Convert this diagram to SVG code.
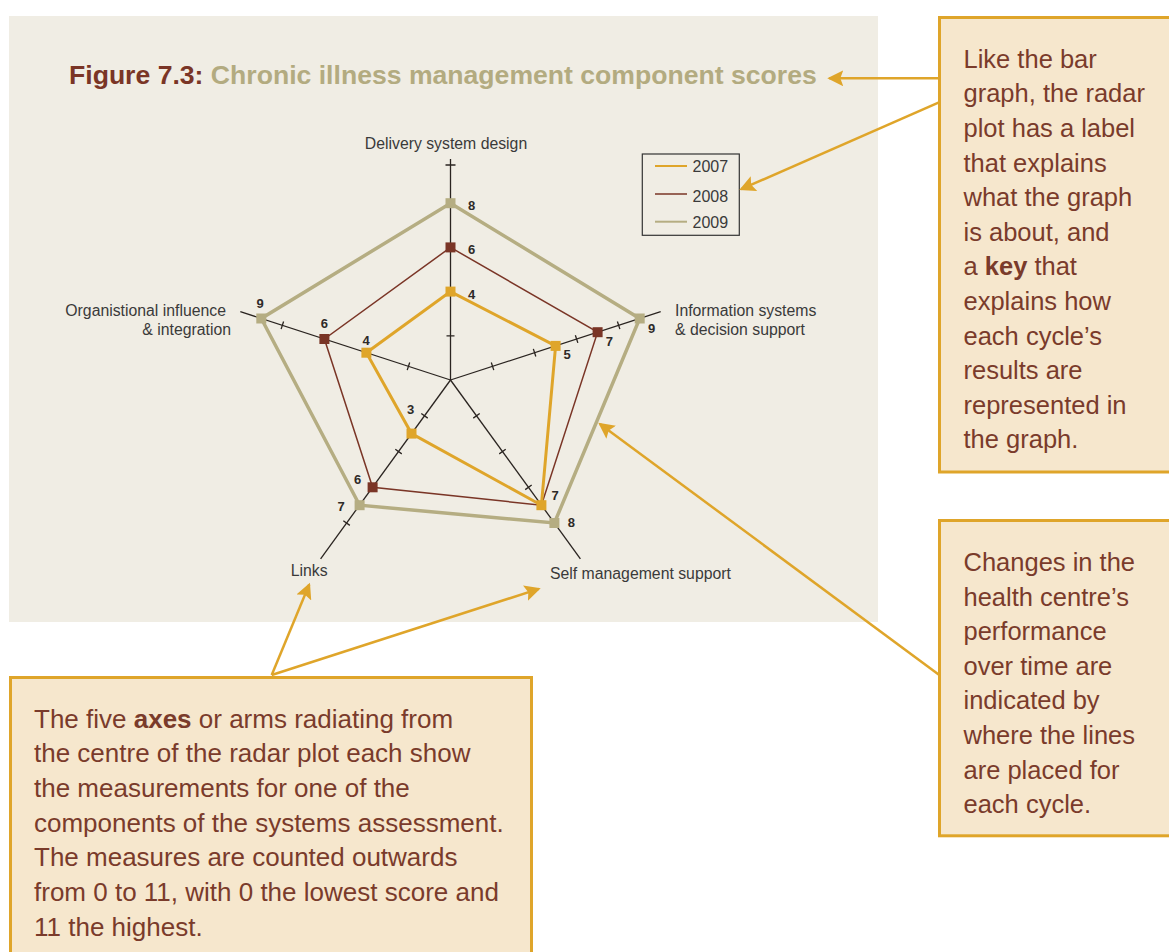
<svg xmlns="http://www.w3.org/2000/svg" width="1169" height="952" viewBox="0 0 1169 952">
<style>
.axl{font-family:"Liberation Sans",Arial,sans-serif;font-size:15.8px;fill:#3a3a3a}
.val{font-family:"Liberation Sans",Arial,sans-serif;font-size:13px;font-weight:bold;fill:#2e2a28;text-anchor:middle}
.leg{font-family:"Liberation Sans",Arial,sans-serif;font-size:16px;fill:#3a3a3a}
.call{font-family:"Liberation Sans",Arial,sans-serif;font-size:25.5px;fill:#7a3b2b}
.call3{font-family:"Liberation Sans",Arial,sans-serif;font-size:26px;fill:#7a3b2b}
.box{fill:#f6e7cd;stroke:#dfa52a;stroke-width:3}
.arr{stroke:#dfa52a;stroke-width:2.5;fill:none;marker-end:url(#ah)}
.p07{fill:none;stroke:#dfa52a;stroke-width:3}
.p08{fill:none;stroke:#7a3526;stroke-width:1.5}
.p09{fill:none;stroke:#b5ad82;stroke-width:3.5}
.m07{fill:#dfa52a}.m08{fill:#7a3526}.m09{fill:#b5ad82}
</style>
<defs>
<marker id="ah" viewBox="0 0 16 16" markerWidth="16" markerHeight="16" refX="14" refY="8" orient="auto" markerUnits="userSpaceOnUse">
<path d="M0,0 L16,8 L0,16 L3,8 z" fill="#dfa52a"/>
</marker>
</defs>
<rect x="0" y="0" width="1169" height="952" fill="#ffffff"/>
<rect id="panel" x="9" y="16" width="869" height="606" fill="#f0ede4"/>

<g id="title">
<text x="69" y="84.3" font-family="Liberation Sans,Arial,sans-serif" font-size="26.6" font-weight="bold"><tspan fill="#7a3526">Figure 7.3:</tspan><tspan fill="#b3ab80"> Chronic illness management component scores</tspan></text>
</g>

<g id="axes" transform="translate(450.5,380)" stroke="#2a2420" stroke-width="1.3" fill="none">
<g><line x1="0" y1="0" x2="0" y2="-221"/><path d="M-4,-44.2H4M-4,-88.4H4M-4,-132.6H4M-4,-176.8H4M-5,-215H5"/></g>
<g transform="rotate(72)"><line x1="0" y1="0" x2="0" y2="-221"/><path d="M-4,-44.2H4M-4,-88.4H4M-4,-132.6H4M-4,-176.8H4"/></g>
<g transform="rotate(144)"><line x1="0" y1="0" x2="0" y2="-221"/><path d="M-4,-44.2H4M-4,-88.4H4M-4,-132.6H4M-4,-176.8H4"/></g>
<g transform="rotate(216)"><line x1="0" y1="0" x2="0" y2="-221"/><path d="M-4,-44.2H4M-4,-88.4H4M-4,-132.6H4M-4,-176.8H4"/></g>
<g transform="rotate(288)"><line x1="0" y1="0" x2="0" y2="-221"/><path d="M-4,-44.2H4M-4,-88.4H4M-4,-132.6H4M-4,-176.8H4"/></g>
</g>

<g id="axis-labels">
<text class="axl" x="446" y="149" text-anchor="middle">Delivery system design</text>
<text class="axl" x="675" y="316">Information systems</text>
<text class="axl" x="675" y="335">&amp; decision support</text>
<text class="axl" x="226" y="316" text-anchor="end">Organistional influence</text>
<text class="axl" x="231" y="335" text-anchor="end">&amp; integration</text>
<text class="axl" x="290.7" y="576">Links</text>
<text class="axl" x="550" y="579">Self management support</text>
</g>

<g id="series-2009">
<polygon class="p09" points="450.5,203.2 639.7,318.5 554.4,523 359.6,505.2 261.3,318.5"/>
<g class="m09">
<rect x="445.5" y="198.2" width="10" height="10"/>
<rect x="634.7" y="313.5" width="10" height="10"/>
<rect x="549.4" y="518" width="10" height="10"/>
<rect x="354.6" y="500.2" width="10" height="10"/>
<rect x="256.3" y="313.5" width="10" height="10"/>
</g>
</g>
<g id="series-2008">
<polygon class="p08" points="450.5,247.4 597.6,332.2 541.4,505.2 372.6,487.3 324.4,339"/>
<g class="m08">
<rect x="445.5" y="242.4" width="10" height="10"/>
<rect x="592.6" y="327.2" width="10" height="10"/>
<rect x="367.6" y="482.3" width="10" height="10"/>
<rect x="319.4" y="334" width="10" height="10"/>
</g>
</g>
<g id="series-2007">
<polygon class="p07" points="450.5,291.6 555.6,345.9 541.4,505.2 411.5,433.6 366.4,352.7"/>
<g class="m07">
<rect x="445.5" y="286.6" width="10" height="10"/>
<rect x="550.6" y="340.9" width="10" height="10"/>
<rect x="536.4" y="500.2" width="10" height="10"/>
<rect x="406.5" y="428.6" width="10" height="10"/>
<rect x="361.4" y="347.7" width="10" height="10"/>
</g>
</g>

<g id="value-labels">
<text class="val" x="471.5" y="210.2">8</text>
<text class="val" x="471.5" y="253.5">6</text>
<text class="val" x="471.5" y="298.5">4</text>
<text class="val" x="651.7" y="333">9</text>
<text class="val" x="609.3" y="346.4">7</text>
<text class="val" x="567" y="359">5</text>
<text class="val" x="555" y="500.2">7</text>
<text class="val" x="571.3" y="527">8</text>
<text class="val" x="410.7" y="413.9">3</text>
<text class="val" x="357.7" y="484.2">6</text>
<text class="val" x="341" y="511.4">7</text>
<text class="val" x="260" y="307.5">9</text>
<text class="val" x="324.3" y="328.2">6</text>
<text class="val" x="366" y="344.7">4</text>
</g>

<g id="legend">
<rect x="642.3" y="154" width="97" height="81.3" fill="none" stroke="#333" stroke-width="1.2"/>
<line x1="655" y1="166" x2="687" y2="166" stroke="#dfa52a" stroke-width="2"/>
<line x1="655" y1="194" x2="687" y2="194" stroke="#7a3526" stroke-width="1.5"/>
<line x1="655" y1="221.7" x2="687" y2="221.7" stroke="#b5ad82" stroke-width="2"/>
<text class="leg" x="692.5" y="172.3">2007</text>
<text class="leg" x="692.5" y="202.3">2008</text>
<text class="leg" x="692.5" y="228.3">2009</text>
</g>

<g id="connectors">
<line class="arr" x1="939" y1="78.3" x2="829.3" y2="78.3"/>
<line class="arr" x1="939" y1="102.3" x2="741.1" y2="189.2"/>
<line class="arr" x1="939.3" y1="675" x2="599.9" y2="423.9"/>
<line class="arr" x1="271.7" y1="675" x2="309.2" y2="584.5"/>
<line class="arr" x1="271.7" y1="675" x2="538.8" y2="588.9"/>
</g>

<g id="callout-key">
<rect class="box" x="939.5" y="17.5" width="240" height="454.5"/>
<text class="call" x="963.5" y="67.7">Like the bar</text>
<text class="call" x="963.5" y="102.3">graph, the radar</text>
<text class="call" x="963.5" y="136.9">plot has a label</text>
<text class="call" x="963.5" y="171.5">that explains</text>
<text class="call" x="963.5" y="206.1">what the graph</text>
<text class="call" x="963.5" y="240.7">is about, and</text>
<text class="call" x="963.5" y="275.3">a <tspan font-weight="bold">key</tspan> that</text>
<text class="call" x="963.5" y="309.9">explains how</text>
<text class="call" x="963.5" y="344.5">each cycle’s</text>
<text class="call" x="963.5" y="379.1">results are</text>
<text class="call" x="963.5" y="413.7">represented in</text>
<text class="call" x="963.5" y="448.3">the graph.</text>
</g>

<g id="callout-changes">
<rect class="box" x="939.5" y="520.5" width="240" height="315.3"/>
<text class="call" x="963.5" y="571">Changes in the</text>
<text class="call" x="963.5" y="605.6">health centre’s</text>
<text class="call" x="963.5" y="640.2">performance</text>
<text class="call" x="963.5" y="674.8">over time are</text>
<text class="call" x="963.5" y="709.4">indicated by</text>
<text class="call" x="963.5" y="744">where the lines</text>
<text class="call" x="963.5" y="778.6">are placed for</text>
<text class="call" x="963.5" y="813.2">each cycle.</text>
</g>

<g id="callout-axes">
<rect class="box" x="10.5" y="677.5" width="521" height="300"/>
<text class="call3" x="34" y="727.5">The five <tspan font-weight="bold">axes</tspan> or arms radiating from</text>
<text class="call3" x="34" y="762.2">the centre of the radar plot each show</text>
<text class="call3" x="34" y="796.9">the measurements for one of the</text>
<text class="call3" x="34" y="831.6">components of the systems assessment.</text>
<text class="call3" x="34" y="866.3">The measures are counted outwards</text>
<text class="call3" x="34" y="901">from 0 to 11, with 0 the lowest score and</text>
<text class="call3" x="34" y="935.7">11 the highest.</text>
</g>
</svg>
